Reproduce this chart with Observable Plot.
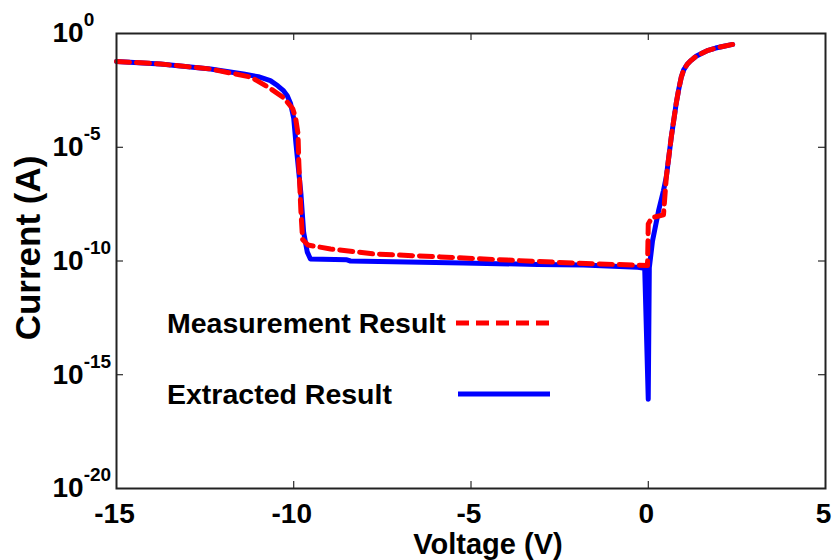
<!DOCTYPE html>
<html>
<head>
<meta charset="utf-8">
<script src="https://cdn.jsdelivr.net/npm/d3@7"></script>
<script src="https://cdn.jsdelivr.net/npm/@observablehq/plot@0.6"></script>
<style>
  body { margin: 0; background: #fff; }
  #chart svg { display: block; }
</style>
</head>
<body>
<div id="chart"></div>
<script>
// Diode I–V characteristics: voltage (V) and log10 of current (A)
const extractedVoltage = [
  -15, -13.76, -12.35, -11.42, -11.0, -10.66, -10.45, -10.29, -10.18, -10.09, -10.0, -9.94, -9.8,
  -9.72, -9.62, -9.53, -8.5, -8.4, -5.21, -3.12, -1.83, -0.30, -0.10, 0.0, 0.03, 0.12, 0.29, 0.43,
  0.51, 0.65, 0.79, 0.86, 0.93, 1.0, 1.1, 1.21, 1.35, 1.5, 1.69, 1.9, 2.1, 2.38
];
const extractedLogCurrent = [
  -1.23, -1.34, -1.56, -1.78, -1.9, -2.07, -2.3, -2.51, -2.75, -3.08, -3.74, -4.8, -7.0,
  -8.75, -9.6, -9.91, -9.95, -10.0, -10.09, -10.15, -10.18, -10.28, -10.32, -16.08, -10.3, -9.12,
  -7.8, -6.9, -6.3, -4.55, -3.06, -2.45, -1.93, -1.6, -1.35, -1.18, -1.0, -0.88, -0.74, -0.64,
  -0.57, -0.48
];
const measuredVoltage = [
  -15, -13.76, -12.35, -11.2, -10.66, -10.29, -10.03, -9.95, -9.88, -9.86, -9.8, -9.75, -9.6,
  -8.96, -7.75, -5.86, -3.97, -2.11, -0.42, -0.02, 0.0, 0.1, 0.43, 0.51, 0.65, 0.79, 0.86, 0.93,
  1.0, 1.1, 1.21, 1.35, 1.5, 1.69, 1.9, 2.1, 2.38
];
const measuredLogCurrent = [
  -1.23, -1.34, -1.56, -1.92, -2.42, -2.82, -3.3, -3.7, -4.4, -5.56, -7.75, -9.06, -9.3,
  -9.47, -9.69, -9.82, -9.96, -10.09, -10.18, -10.2, -8.37, -8.1, -7.97, -6.3, -4.55, -3.06,
  -2.45, -1.93, -1.6, -1.35, -1.18, -1.0, -0.88, -0.74, -0.64, -0.57, -0.48
];

const xTicks = [-15, -10, -5, 0, 5];
const yTicks = [1e0, 1e-5, 1e-10, 1e-15, 1e-20];
const seriesNames = ["Measurement Result", "Extracted Result"];
const seriesColors = ["#ff0000", "#0000ff"];
const xTitle = "Voltage (V)";
const yTitle = "Current (A)";

const extracted = extractedVoltage.map((v, i) => ({V: v, I: 10 ** extractedLogCurrent[i]}));
const measured = measuredVoltage.map((v, i) => ({V: v, I: 10 ** measuredLogCurrent[i]}));

const W = 833, H = 560;
const mt = 33, mr = 8, mb = 72, ml = 116;
const innerW = W - ml - mr, innerH = H - mt - mb;
const tickLen = 7;
const font = "'Liberation Sans', Arial, Helvetica, sans-serif";

const chart = Plot.plot({
  width: W,
  height: H,
  marginTop: mt,
  marginRight: mr,
  marginBottom: mb,
  marginLeft: ml,
  style: {fontFamily: font, fontWeight: "bold", fontSize: "28px", color: "#000", background: "#fff", overflow: "visible"},
  x: {domain: [-15, 5]},
  y: {type: "log", domain: [1e-20, 1e0]},
  marks: [
    // inward ticks on all four sides
    Plot.tickX(xTicks, {x: d => d, insetTop: innerH - tickLen, stroke: "#000", strokeWidth: 1}),
    Plot.tickX(xTicks, {x: d => d, insetBottom: innerH - tickLen, stroke: "#000", strokeWidth: 1}),
    Plot.tickY(yTicks, {y: d => d, insetRight: innerW - tickLen, stroke: "#000", strokeWidth: 1}),
    Plot.tickY(yTicks, {y: d => d, insetLeft: innerW - tickLen, stroke: "#000", strokeWidth: 1}),
    Plot.axisX(xTicks, {tickSize: 0, tickPadding: 15, label: null, fontSize: 28, dx: -2, tickFormat: d => String(d)}),
    // the "10" of every label starts at the same x, exponents hang to the right
    Plot.axisY(yTicks, {tickSize: 0, tickPadding: 64, textAnchor: "start", label: null, fontSize: 28, tickFormat: d => "10^" + Math.round(Math.log10(d))}),
    Plot.line(extracted, {x: "V", y: "I", stroke: seriesColors[1], strokeWidth: 5, strokeLinejoin: "round", strokeLinecap: "round"}),
    Plot.line(measured, {x: "V", y: "I", stroke: seriesColors[0], strokeWidth: 5, strokeDasharray: "13,7", strokeLinejoin: "round"}),
    Plot.frame({stroke: "#222", strokeWidth: 2}),
    Plot.text([xTitle], {frameAnchor: "bottom", text: d => d, textAnchor: "middle", lineAnchor: "middle", dx: 17, dy: 56, fontSize: 29, fontWeight: "bold", fill: "#000"}),
    Plot.text([yTitle], {frameAnchor: "left", text: d => d, textAnchor: "middle", lineAnchor: "middle", rotate: -90, dx: -88, dy: -13, fontSize: 35, fontWeight: "bold", fill: "#000"})
  ]
});

// tick label weight and size
d3.select(chart).selectAll('g[aria-label="x-axis tick label"] text, g[aria-label="y-axis tick label"] text')
  .style("font-size", "28px").style("font-weight", "bold");

// y tick labels as powers of ten with a raised exponent
d3.select(chart).selectAll('g[aria-label="y-axis tick label"] text').each(function () {
  const t = d3.select(this);
  const [base, exp] = t.text().split("^");
  t.text(null);
  t.append("tspan").text(base);
  t.append("tspan").style("font-size", "19px").attr("dy", "-0.85em").text(exp);
});

// legend inside the plot area
const legend = d3.select(chart).append("g")
  .attr("font-family", font).attr("font-weight", "bold")
  .style("font-size", "28.5px").attr("text-anchor", "start");
const legendRows = [
  {y: 323, x1: 456, x2: 553, dash: "13,7"},
  {y: 394, x1: 458, x2: 550, dash: null}
];
seriesNames.forEach((name, i) => {
  const r = legendRows[i];
  legend.append("text").attr("x", 167).attr("y", r.y).attr("dy", "0.35em").attr("fill", "#000").text(name);
  legend.append("line")
    .attr("x1", r.x1).attr("x2", r.x2).attr("y1", r.y).attr("y2", r.y)
    .attr("stroke", seriesColors[i]).attr("stroke-width", 5)
    .attr("stroke-dasharray", r.dash);
});

document.getElementById("chart").appendChild(chart);
</script>
</body>
</html>
